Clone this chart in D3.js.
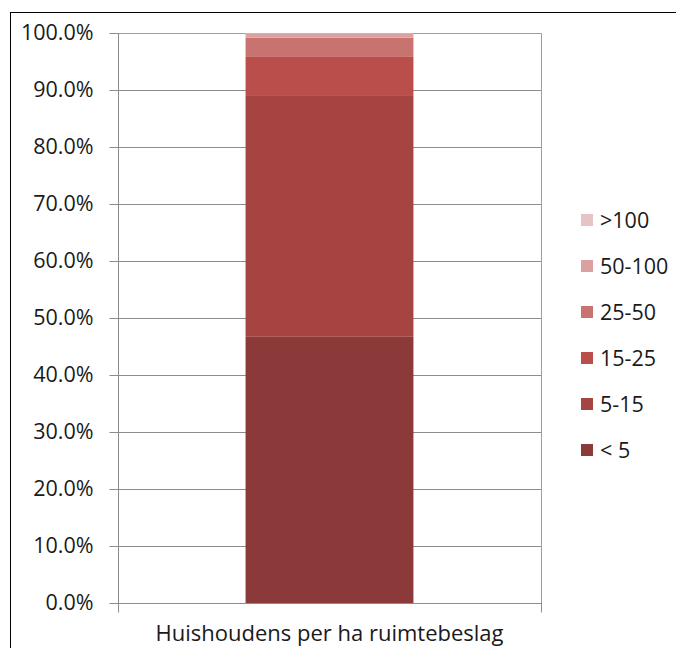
<!DOCTYPE html>
<html><head><meta charset="utf-8">
<script src="https://cdn.jsdelivr.net/npm/d3@7"></script>
<style>body{margin:0;background:#fff}svg{display:block}text{font-family:"Open Sans",sans-serif;fill:#1a1a1a}</style>
</head><body>
<svg id="c" width="676" height="648"></svg>
<script>
const category = ["Huishoudens per ha ruimtebeslag"];
const seriesNames = ["< 5", "5-15", "15-25", "25-50", "50-100", ">100"];
const seriesValues = [46.7, 42.4, 6.7, 3.4, 0.7, 0.1];
const seriesColors = ["#8C3A39", "#A64442", "#B94E4A", "#C97371", "#DBA1A1", "#E8C3C4"];
const yTicks = [0, 10, 20, 30, 40, 50, 60, 70, 80, 90, 100];

const svg = d3.select("#c");
const L = 118, R = 541, T = 33, B = 603;
const FONT = "'Open Sans', sans-serif";
const y = d3.scaleLinear().domain([0, 100]).range([B, T]);
const x = d3.scaleBand().domain(category).range([L, R]).paddingInner(0).paddingOuter(0.76);

// outer chart border
svg.append("rect").attr("x", 10.5).attr("y", 12.5).attr("width", 700).attr("height", 700)
  .attr("fill", "none").attr("stroke", "#000").attr("stroke-width", 1);

// gridlines
svg.append("g").selectAll("line").data(yTicks.filter(d => d > 0 && d < 100)).join("line")
  .attr("x1", L).attr("x2", R).attr("y1", d => Math.round(y(d)) + 0.5).attr("y2", d => Math.round(y(d)) + 0.5)
  .attr("stroke", "#8c8c8c").attr("stroke-width", 1);

// plot area top & right border (blue)
svg.append("path").attr("d", `M${L},${T + 0.5}H${R + 0.5}V${B}`).attr("fill", "none")
  .attr("stroke", "#7aa3d6").attr("stroke-width", 1);

// stacked bar
let acc = 0;
const stack = seriesValues.map((v, i) => { const s = { y0: acc, y1: acc + v, i }; acc += v; return s; });
svg.append("g").selectAll("rect").data(stack).join("rect")
  .attr("x", x(category[0])).attr("width", x.bandwidth())
  .attr("y", d => y(d.y1)).attr("height", d => y(d.y0) - y(d.y1))
  .attr("fill", d => seriesColors[d.i]);

// y axis
const yAxis = d3.axisLeft(y).tickValues(yTicks).tickFormat(d => d.toFixed(1) + "%").tickSize(9).tickPadding(16);
const gy = svg.append("g").attr("transform", `translate(${L + 0.5},0)`).call(yAxis);
gy.select(".domain").attr("stroke", "#8c8c8c").attr("d", `M0,${T}V${B}`);
gy.selectAll(".tick line").attr("stroke", "#8c8c8c");
gy.selectAll(".tick text").style("font-size", "21.5px").attr("fill", "#1a1a1a").style("font-family", FONT);

// x axis
const gx = svg.append("g").attr("transform", `translate(0,${B + 0.5})`);
gx.append("line").attr("x1", L).attr("x2", R + 1).attr("stroke", "#8c8c8c");
gx.selectAll("line.t").data([L + 0.5, R + 0.5]).join("line").attr("class", "t")
  .attr("x1", d => d).attr("x2", d => d).attr("y1", 0).attr("y2", 9).attr("stroke", "#8c8c8c");
gx.append("text").attr("x", x(category[0]) + x.bandwidth() / 2).attr("y", 37)
  .attr("text-anchor", "middle").style("font-size", "22px").text(category[0]);

// legend
const lg = svg.append("g");
const order = seriesNames.map((n, i) => i).reverse();
order.forEach((si, k) => {
  const cy = 220 + k * 46;
  lg.append("rect").attr("x", 581).attr("y", cy - 6).attr("width", 12).attr("height", 12).attr("fill", seriesColors[si]);
  lg.append("text").attr("x", 600).attr("y", cy).attr("dy", "0.36em").style("font-size", "21.5px").text(seriesNames[si]);
});
</script>
</body></html>
